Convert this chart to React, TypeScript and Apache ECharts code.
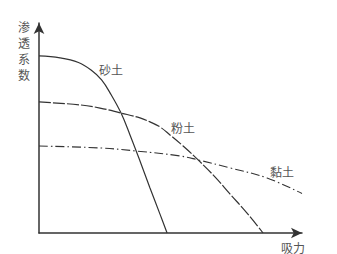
import React, { useEffect, useRef } from "react";
import * as echarts from "echarts";

// Data in arbitrary units (suction on x, permeability on y), both 0–100
const sandData: number[][] = [
  [0, 84.3], [8.0, 83.4], [15.0, 81.2], [19.8, 77.6], [23.8, 72.9], [27.5, 65.7],
  [31.2, 57.1], [34.6, 46.7], [38.4, 34.3], [42.2, 21.4], [46.0, 9.0], [48.7, 0],
];
const siltData: number[][] = [
  [0, 62.4], [15.6, 61.0], [23.2, 59.5], [31.2, 57.1], [38.4, 54.8], [42.2, 52.9],
  [46.0, 50.5], [49.8, 46.7], [54.8, 41.4], [60.5, 34.8], [66.9, 26.7], [72.6, 18.6],
  [79.1, 9.5], [85.2, 0],
];
const clayData: number[][] = [
  [0, 41.4], [23.2, 40.5], [37.3, 39.0], [53.6, 36.7], [60.5, 34.8], [72.6, 31.0],
  [86.7, 26.2], [100, 18.8],
];
const seriesNames = ["砂土", "粉土", "黏土"];
const xName = "吸力";
const yName = ["渗", "透", "系", "数"];

export default function App() {
  const ref = useRef<HTMLDivElement>(null);
  useEffect(() => {
    if (!ref.current) return;
    const chart = echarts.init(ref.current, null, { renderer: "svg" });
    const font = "'Noto Sans CJK SC', sans-serif";
    const txtColor = "#555";
    const lineColor = "#333";
    const axisCommon = {
      type: "value" as const,
      min: 0,
      max: 100,
      axisLine: {
        show: true,
        symbol: ["none", "arrow"],
        symbolSize: [8, 11],
        lineStyle: { color: lineColor, width: 1.5 },
      },
      axisTick: { show: false },
      axisLabel: { show: false },
      splitLine: { show: false },
    };
    const label = (text: string, x: number, y: number, size = 12) => ({
      type: "text",
      x,
      y,
      style: {
        text,
        fill: txtColor,
        font: `${size}px ${font}`,
        align: "center",
        verticalAlign: "middle",
      },
    });
    chart.setOption({
      animation: false,
      backgroundColor: "#fff",
      grid: { left: 39, right: 35, top: 23, bottom: 21 },
      xAxis: { ...axisCommon },
      yAxis: { ...axisCommon },
      series: [
        {
          name: seriesNames[0],
          type: "line",
          data: sandData,
          smooth: 0.4,
          showSymbol: false,
          lineStyle: { color: lineColor, width: 1.2 },
        },
        {
          name: seriesNames[1],
          type: "line",
          data: siltData,
          smooth: 0.4,
          showSymbol: false,
          lineStyle: { color: lineColor, width: 1.2, type: [12, 2] },
        },
        {
          name: seriesNames[2],
          type: "line",
          data: clayData,
          smooth: 0.4,
          showSymbol: false,
          lineStyle: { color: lineColor, width: 1.1, type: [9, 3, 1.5, 3] },
        },
      ],
      graphic: [
        label(seriesNames[0], 111, 69),
        label(seriesNames[1], 183, 127),
        label(seriesNames[2], 282, 171),
        label(xName, 293, 247),
        ...yName.map((c, i) => label(c, 24, 26 + i * 16, 12)),
      ],
    });
    return () => chart.dispose();
  }, []);
  return (
    <div
      ref={ref}
      style={{ position: "fixed", left: 0, top: 0, width: 337, height: 254 }}
    />
  );
}
